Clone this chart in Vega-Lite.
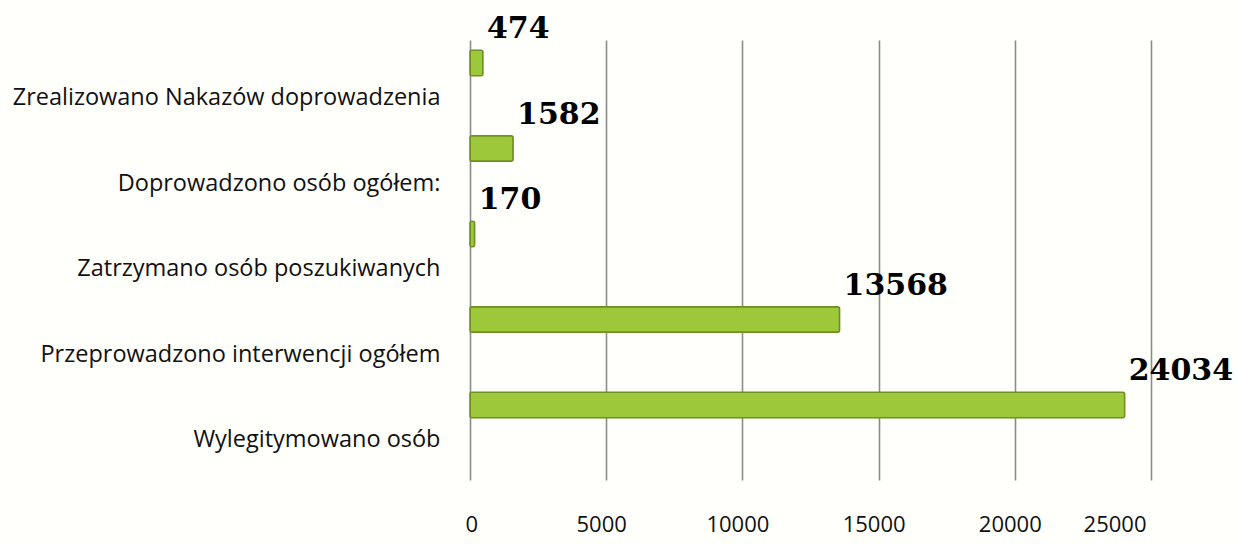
{
  "$schema": "https://vega.github.io/schema/vega-lite/v6.json",
  "autosize": {"type": "none"},
  "width": 681,
  "height": 440,
  "padding": {"left": 470, "top": 40, "right": 86, "bottom": 64},
  "background": "#fffffb",
  "config": {"view": {"stroke": null}},
  "data": {
    "values": [
      {"kategoria": "Zrealizowano Nakazów doprowadzenia", "wartosc": 474},
      {"kategoria": "Doprowadzono osób ogółem:", "wartosc": 1582},
      {"kategoria": "Zatrzymano osób poszukiwanych", "wartosc": 170},
      {"kategoria": "Przeprowadzono interwencji ogółem", "wartosc": 13568},
      {"kategoria": "Wylegitymowano osób", "wartosc": 24034}
    ]
  },
  "encoding": {
    "y": {
      "field": "kategoria",
      "type": "nominal",
      "sort": null,
      "scale": {"paddingInner": 0.7, "paddingOuter": 0.423, "align": 0.141},
      "axis": {
        "title": null,
        "domain": false,
        "ticks": false,
        "labelOffset": 35,
        "labelPadding": 30,
        "labelFont": "Open Sans",
        "labelFontSize": 23.5,
        "labelColor": "#111",
        "labelLimit": 500
      }
    },
    "x": {
      "field": "wartosc",
      "type": "quantitative",
      "scale": {"domain": [0, 25000], "nice": false},
      "axis": {
        "title": null,
        "values": [0, 5000, 10000, 15000, 20000, 25000],
        "format": "d",
        "domain": false,
        "ticks": false,
        "grid": true,
        "gridColor": "#8a8a8a",
        "gridWidth": 1.6,
        "labelPadding": 34,
        "labelOffset": -5,
        "labelFont": "Open Sans",
        "labelFontSize": 22,
        "labelColor": "#111"
      }
    }
  },
  "layer": [
    {
      "mark": {"type": "bar", "color": "#9cc83a", "stroke": "#6f8f22", "strokeWidth": 1.5, "cornerRadius": 2}
    },
    {
      "mark": {
        "type": "text",
        "align": "left",
        "baseline": "middle",
        "dx": 4,
        "dy": -34,
        "font": "DejaVu Serif",
        "fontWeight": "bold",
        "fontSize": 30,
        "color": "#000"
      },
      "encoding": {"text": {"field": "wartosc", "type": "quantitative", "format": "d"}}
    }
  ]
}
